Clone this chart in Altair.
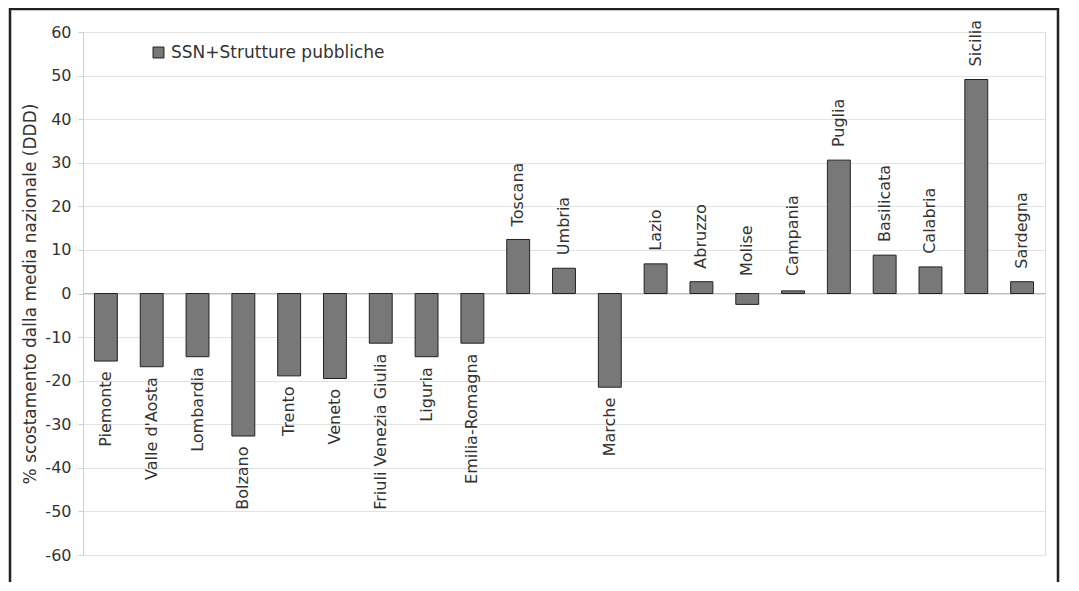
import altair as alt
import pandas as pd

regioni = ["Piemonte", "Valle d'Aosta", "Lombardia", "Bolzano", "Trento", "Veneto",
           "Friuli Venezia Giulia", "Liguria", "Emilia-Romagna", "Toscana", "Umbria",
           "Marche", "Lazio", "Abruzzo", "Molise", "Campania", "Puglia", "Basilicata",
           "Calabria", "Sicilia", "Sardegna"]
valori = [-15.5, -16.8, -14.5, -32.7, -18.9, -19.5, -11.4, -14.5, -11.4, 12.4, 5.8,
          -21.5, 6.8, 2.7, -2.5, 0.6, 30.6, 8.8, 6.1, 49.1, 2.7]
serie = "SSN+Strutture pubbliche"
y_ticks = list(range(-60, 61, 10))

df = pd.DataFrame({"regione": regioni, "valore": valori, "serie": [serie] * len(regioni)})

FONT = "DejaVu Sans"
TXT = "#333333"
FS = 16

x_enc = alt.X("regione:N", sort=None, axis=None,
              scale=alt.Scale(paddingInner=0.5, paddingOuter=0.25))
y_scale = alt.Scale(domain=[-60, 60], nice=False)

base = alt.Chart(df)

bars = base.mark_bar(stroke="#222222", strokeWidth=1).encode(
    x=x_enc,
    y=alt.Y("valore:Q", scale=y_scale,
            axis=alt.Axis(values=y_ticks, title="% scostamento dalla media nazionale (DDD)",
                          labelExpr="datum.value + ''",
                          grid=True, gridColor="#e2e2e2", domainColor="#cfcfcf",
                          tickColor="#cfcfcf", tickSize=5, labelPadding=7,
                          labelFontSize=FS, labelColor=TXT, labelFont=FONT,
                          titleFontSize=17, titleColor=TXT, titleFont=FONT,
                          titleFontWeight="normal", titlePadding=5)),
    y2=alt.datum(0),
    color=alt.Color("serie:N", scale=alt.Scale(range=["#787878"]),
                    legend=alt.Legend(title=None, orient="none", legendX=67, legendY=12,
                                      symbolType="square", symbolSize=120,
                                      symbolStrokeColor="#222222", symbolStrokeWidth=1,
                                      labelLimit=0, labelOffset=4,
                                      labelFontSize=17, labelColor=TXT, labelFont=FONT)),
)

zero = alt.Chart(pd.DataFrame({"zero": [0]})).mark_rule(color="#bdbdbd", strokeWidth=1).encode(
    y=alt.Y("zero:Q", scale=y_scale)
)

# labels sit outside the bar end; very small negative bars get the label above the axis
neg_labels = base.transform_filter("datum.valore < -5").transform_calculate(
    ly="datum.valore - 2.4"
).mark_text(angle=270, align="right", baseline="middle", fontSize=FS, font=FONT,
            color=TXT).encode(
    x=x_enc, y=alt.Y("ly:Q", scale=y_scale), text="regione:N"
)

pos_labels = base.transform_filter("datum.valore >= -5").transform_calculate(
    ly="max(datum.valore, 1) + 3"
).mark_text(angle=270, align="left", baseline="middle", fontSize=FS, font=FONT,
            color=TXT).encode(
    x=x_enc, y=alt.Y("ly:Q", scale=y_scale), text="regione:N"
)

frame = alt.Chart(pd.DataFrame({"f": [0]})).mark_rect(
    fill=None, stroke="#222222", strokeWidth=2.5
).encode(x=alt.value(-73), x2=alt.value(975), y=alt.value(-23), y2=alt.value(620))

chart = alt.layer(zero, bars, neg_labels, pos_labels, frame).properties(
    width=962, height=523,
    autosize=alt.AutoSizeParams(type="none"),
    padding={"left": 75, "top": 24, "right": 15, "bottom": 27},
).configure_view(stroke=None).configure(background="white")

chart.save("out.html", embed_options={"renderer": "svg", "actions": False})
